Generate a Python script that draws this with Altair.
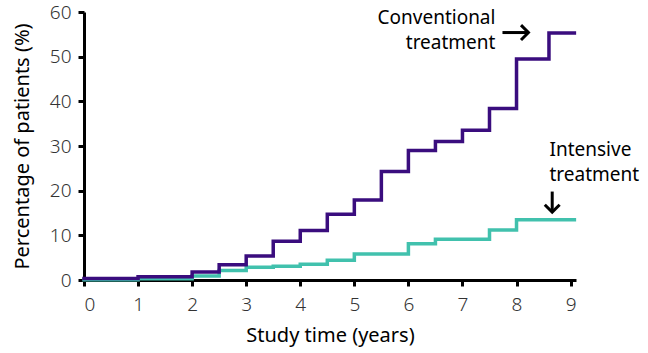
import altair as alt
import pandas as pd

conv_t = [0, 1, 2, 2.5, 3, 3.5, 4, 4.5, 5, 5.5, 6, 6.5, 7, 7.5, 8, 8.6, 9.07]
conv_v = [0.35, 0.75, 1.8, 3.4, 5.4, 8.7, 11.1, 14.7, 17.9, 24.3, 29.0, 31.0, 33.5, 38.4, 49.5, 55.3, 55.3]
int_t = [0, 1, 2, 2.5, 3, 3.5, 4, 4.5, 5, 6, 6.5, 7.5, 8, 9.07]
int_v = [0.05, 0.3, 0.9, 2.1, 2.85, 3.1, 3.5, 4.4, 5.8, 8.1, 9.1, 11.2, 13.5, 13.5]
x_ticks = [0, 1, 2, 3, 4, 5, 6, 7, 8, 9]
y_ticks = [0, 10, 20, 30, 40, 50, 60]

PURPLE = "#3a0d7e"
TEAL = "#41c1ad"
FONT = "Noto Sans"

df = pd.DataFrame(
    {"t": int_t + conv_t,
     "v": int_v + conv_v,
     "group": ["Intensive"] * len(int_t) + ["Conventional"] * len(conv_t)}
)

xs = alt.Scale(domain=[0, 9.1], nice=False, zero=False)
ys = alt.Scale(domain=[0, 60], nice=False)

lines = alt.Chart(df).mark_line(interpolate="step-after", strokeWidth=3.5, strokeCap="square").encode(
    x=alt.X("t:Q", scale=xs, title="Study time (years)",
            axis=alt.Axis(values=x_ticks, format="d", grid=False, labelPadding=9, titlePadding=11)),
    y=alt.Y("v:Q", scale=ys, title="Percentage of patients (%)",
            axis=alt.Axis(values=y_ticks, grid=False, labelPadding=7, titlePadding=17)),
    color=alt.Color("group:N", scale=alt.Scale(domain=["Intensive", "Conventional"], range=[TEAL, PURPLE]), legend=None),
    order=alt.Order("t:Q"),
)

ann = pd.DataFrame({
    "x": [7.61, 7.61, 8.61, 8.61],
    "y": [57.3, 51.7, 27.8, 22.2],
    "label": ["Conventional", "treatment", "Intensive", "treatment"],
    "side": ["r", "r", "l", "l"],
})
txt_conv = alt.Chart(ann[ann.side == "r"]).mark_text(
    align="right", baseline="alphabetic", font=FONT, fontSize=19, color="black"
).encode(x=alt.X("x:Q", scale=xs), y=alt.Y("y:Q", scale=ys), text="label:N")
txt_int = alt.Chart(ann[ann.side == "l"]).mark_text(
    align="left", baseline="alphabetic", font=FONT, fontSize=19, color="black"
).encode(x=alt.X("x:Q", scale=xs), y=alt.Y("y:Q", scale=ys), text="label:N")

arrows = pd.DataFrame({
    "x": [7.74, 8.66], "x2": [8.22, 8.66],
    "y": [55.4, 19.8], "y2": [55.4, 15.2],
    "angle": [0, 90],
})
shafts = alt.Chart(arrows).mark_rule(strokeWidth=3, color="black").encode(
    x=alt.X("x:Q", scale=xs), x2="x2:Q", y=alt.Y("y:Q", scale=ys), y2="y2:Q"
)
heads = alt.Chart(arrows).mark_point(
    shape="M -1 -1 L 0 0 L -1 1", filled=False, strokeWidth=3, color="black", size=220, opacity=1,
    strokeJoin="miter"
).encode(
    x=alt.X("x2:Q", scale=xs), y=alt.Y("y2:Q", scale=ys), angle=alt.Angle("angle:Q", scale=None)
)

chart = alt.layer(lines, shafts, heads, txt_conv, txt_int).properties(
    width=492, height=268,
    autosize=alt.AutoSizeParams(type="none"),
    padding={"left": 84, "top": 12, "right": 72, "bottom": 73},
).configure_view(stroke=None).configure_axis(
    domainColor="black", domainWidth=3, tickColor="black", tickWidth=3, tickSize=6,
    labelFont=FONT, labelFontSize=19, labelColor="#333333", labelFontWeight=300,
    titleFont=FONT, titleFontSize=20, titleFontWeight="normal", titleColor="black",
)

chart.save("out.html", embed_options={"renderer": "svg", "actions": False})
